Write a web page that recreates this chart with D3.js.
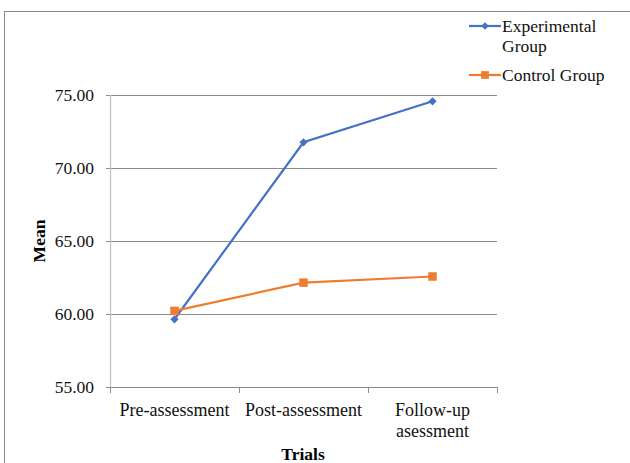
<!DOCTYPE html>
<html>
<head>
<meta charset="utf-8">
<script src="https://cdn.jsdelivr.net/npm/d3@7"></script>
<style>
  body { margin: 0; background: #fff; }
  svg { display: block; font-family: "Liberation Serif", "Times New Roman", serif; }
</style>
</head>
<body>
<svg id="chart" width="630" height="463"></svg>
<script>
// data
const trials = ['Pre-assessment', 'Post-assessment', 'Follow-up asessment'];
const experimental = [59.64, 71.76, 74.57];
const control = [60.21, 62.15, 62.57];
const yTicks = [55, 60, 65, 70, 75];

const BLUE = '#4472C4', ORANGE = '#ED7D31';
const FONT = 'Liberation Serif';

const svg = d3.select('#chart');
const margin = { top: 95, left: 110 };
const W = 387, H = 292;

// chart frame (right and bottom edges fall outside the picture)
svg.append('rect')
  .attr('x', 4.5).attr('y', 11.5).attr('width', 700).attr('height', 600)
  .attr('fill', 'none').attr('stroke', '#8a8a8a').attr('stroke-width', 1);

const g = svg.append('g').attr('transform', `translate(${margin.left},${margin.top})`);

const x = d3.scaleBand().domain(trials).range([0, W]);
const y = d3.scaleLinear().domain([55, 75]).range([H, 0]);

// gridlines + y labels
g.append('g')
  .call(d3.axisLeft(y).tickValues(yTicks).tickSize(-W).tickPadding(15).tickFormat(d3.format('.2f')))
  .call(a => a.select('.domain').remove())
  .call(a => a.selectAll('line').attr('stroke', '#8c8c8c').attr('x1', -4).attr('x2', W))
  .call(a => a.selectAll('text').attr('x', -16).attr('font-size', 17.5).attr('fill', '#111').attr('font-family', FONT));

// vertical axis line
g.append('line').attr('x1', 0.5).attr('x2', 0.5).attr('y1', 0).attr('y2', H)
  .attr('stroke', '#c0c0c0').attr('stroke-width', 1.2);

// x axis
const xa = g.append('g').attr('transform', `translate(0,${H})`);
xa.append('line').attr('x1', 0).attr('x2', W).attr('y1', 0.5).attr('y2', 0.5).attr('stroke', '#8c8c8c');
const bounds = trials.map(t => x(t)).concat([W]);
xa.selectAll('.tk').data(bounds).enter().append('line')
  .attr('x1', d => d + 0.5).attr('x2', d => d + 0.5).attr('y1', 0).attr('y2', 6)
  .attr('stroke', '#8c8c8c');
xa.selectAll('.lbl').data(trials).enter().append('text')
  .attr('text-anchor', 'middle')
  .attr('font-size', 18).attr('fill', '#111')
  .attr('transform', d => `translate(${x(d) + x.bandwidth() / 2},${29})`)
  .each(function (d) {
    const t = d3.select(this);
    const lines = d === 'Follow-up asessment' ? ['Follow-up', 'asessment'] : [d];
    lines.forEach((l, i) => t.append('tspan').attr('x', 0).attr('dy', i ? 21 : 0).text(l));
  });

// axis titles
svg.append('text').attr('x', 303).attr('y', 460).attr('text-anchor', 'middle')
  .attr('font-size', 17.5).attr('font-weight', 'bold').text('Trials');
svg.append('text').attr('transform', 'translate(45,241) rotate(-90)').attr('text-anchor', 'middle')
  .attr('font-size', 17.5).attr('font-weight', 'bold').text('Mean');

// series (diamond = square turned 45deg)
const cx = d => x(d) + x.bandwidth() / 2;
const line = d3.line().x(d => cx(d.t)).y(d => y(d.v));
const series = [
  { name: 'Experimental', color: BLUE, vals: experimental, size: 34, rot: 45 },
  { name: 'Control', color: ORANGE, vals: control, size: 72, rot: 0 }
];
series.forEach(s => {
  const pts = trials.map((t, i) => ({ t, v: s.vals[i] }));
  g.append('path').datum(pts).attr('d', line)
    .attr('fill', 'none').attr('stroke', s.color).attr('stroke-width', 2.2);
  g.selectAll(null).data(pts).enter().append('path')
    .attr('d', d3.symbol().type(d3.symbolSquare).size(s.size))
    .attr('transform', d => `translate(${cx(d.t)},${y(d.v)}) rotate(${s.rot})`)
    .attr('fill', s.color);
});

// legend
const leg = svg.append('g');
const legItems = [
  { lines: ['Experimental', 'Group'], color: BLUE, size: 28, rot: 45, y: 26 },
  { lines: ['Control Group'], color: ORANGE, size: 60, rot: 0, y: 75 }
];
legItems.forEach(it => {
  leg.append('line').attr('x1', 469).attr('x2', 501).attr('y1', it.y).attr('y2', it.y)
    .attr('stroke', it.color).attr('stroke-width', 2.2);
  leg.append('path').attr('d', d3.symbol().type(d3.symbolSquare).size(it.size)())
    .attr('transform', `translate(485,${it.y}) rotate(${it.rot})`).attr('fill', it.color);
  const t = leg.append('text').attr('x', 502).attr('y', it.y + 6).attr('font-size', 17.5).attr('fill', '#111');
  it.lines.forEach((l, i) => t.append('tspan').attr('x', 502).attr('dy', i ? 20 : 0).text(l));
});
</script>
</body>
</html>
